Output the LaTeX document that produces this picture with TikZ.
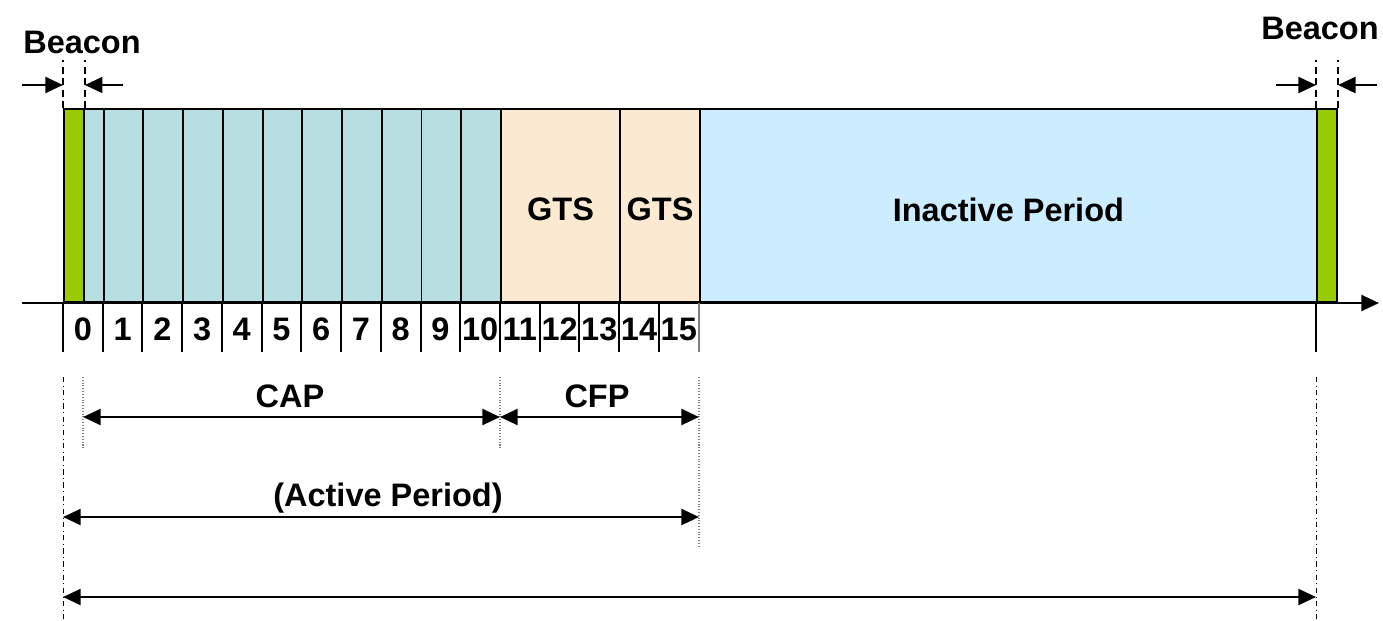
\documentclass[tikz,border=0pt]{standalone}
\usepackage{fontspec}
\setmainfont{Liberation Sans}
\usetikzlibrary{arrows.meta}
\begin{document}
\begin{tikzpicture}[x=0.02cm,y=-0.02cm]

\definecolor{bcolor}{HTML}{99CC00}
\definecolor{capcolor}{HTML}{B7DEE1}
\definecolor{gtscolor}{HTML}{FCE9D1}
\definecolor{icolor}{HTML}{CCECFF}

\tikzstyle{cell}=[draw=black, line width=1.1pt, anchor=south west, inner sep=0pt, minimum height=3.86cm]
\tikzstyle{beaconcell}=[cell, fill=bcolor, minimum width=0.4cm]
\tikzstyle{capcell}=[cell, fill=capcolor, minimum width=0.7945cm]
\tikzstyle{gtscell}=[cell, fill=gtscolor]
\tikzstyle{label}=[font=\bfseries\fontsize{18.5}{22}\selectfont, inner sep=0pt]
\tikzstyle{num}=[font=\bfseries\fontsize{18.5}{22}\selectfont, inner sep=0pt]
\tikzstyle{tick}=[line width=1.1pt]
\tikzstyle{arrow}=[line width=1.5pt, >={Triangle[length=10pt, width=9pt]}]
\tikzstyle{beaconline}=[line width=0.8pt, dash pattern=on 4pt off 2.5pt]
\tikzstyle{guide}=[gray, line width=0.6pt, densely dotted]
\tikzstyle{guideb}=[black, line width=0.5pt, dash dot]

\def\slotw{39.727}

\useasboundingbox (0,0) rectangle (1383,620);

% superframe cells
\node[beaconcell] (b0) at (63,303) {};
\node[capcell, minimum width=0.3945cm] (s0) at (83,303) {};
\foreach \i in {1,...,10} {
    \node[capcell] (s\i) at ({63+\i*\slotw},303) {};
}
\node[gtscell, minimum width=2.386cm] (gts1) at (500,303) {};
\node[gtscell, minimum width=1.594cm] (gts2) at (619.3,303) {};
\node[cell, fill=icolor, minimum width=12.34cm] (inact) at (699,303) {};
\node[beaconcell] (b1) at (1316,303) {};

\node[label] (gtsa) at ([yshift=-0.08cm]gts1.center) {GTS};
\node[label] (gtsb) at ([yshift=-0.08cm]gts2.center) {GTS};
\node[label] (inactl) at ([yshift=-0.08cm]inact.center) {Inactive Period};

% time axis
\coordinate (ax0) at (22,303);
\coordinate (ax1) at (1379,303);
\draw[arrow, ->] (ax0) -- (ax1);

% slot ticks and numbers
\foreach \i in {0,...,15} {
    \draw[tick] ({63+\i*\slotw},303) -- ++(0,49);
    \node[num] (n\i) at ({63+(\i+0.5)*\slotw},329) {\i};
}
\draw[tick, gray] (699,303) -- (699,352);
\draw[tick] (b1.south west) -- ++(0,49);

% beacon markers
\node[label] (beaconl) at (82,42) {Beacon};
\node[label] (beaconr) at (1320,28) {Beacon};
\draw[beaconline] (b0.north west) -- ++(0,-48);
\draw[beaconline] (b0.north east) -- ++(0,-48);
\draw[beaconline] (b1.north west) -- ++(0,-48);
\draw[beaconline] (b1.north east) -- ++(0,-48);
\coordinate (la) at (22,85);
\coordinate (lb) at (123,85);
\coordinate (ra) at (1276,85);
\coordinate (rb) at (1377,85);
\draw[arrow, ->] (la) -- (la -| b0.west);
\draw[arrow, ->] (lb) -- (lb -| b0.east);
\draw[arrow, ->] (ra) -- (ra -| b1.west);
\draw[arrow, ->] (rb) -- (rb -| b1.east);

% guides
\draw[guide] (83,377) -- (83,450);
\draw[guide] (500,377) -- (500,450);
\draw[guide] (699,377) -- (699,548);
\draw[guideb] (63,377) -- (63,620);
\draw[guideb] (1316,377) -- (1316,620);

% periods
\coordinate (cap0) at (83,417);
\coordinate (cap1) at (500,417);
\coordinate (cfp1) at (699,417);
\coordinate (act0) at (63,517);
\coordinate (act1) at (699,517);
\coordinate (sf0) at (63,597);
\coordinate (sf1) at (1316,597);
\draw[arrow, <->] (cap0) -- (cap1);
\draw[arrow, <->] (cap1) -- (cfp1);
\draw[arrow, <->] (act0) -- (act1);
\draw[arrow, <->] (sf0) -- (sf1);
\node[label] (capl) at (290,396) {CAP};
\node[label] (cfpl) at (597,396) {CFP};
\node[label] (actl) at (388,498) {(Active Period)};

\end{tikzpicture}
\end{document}
